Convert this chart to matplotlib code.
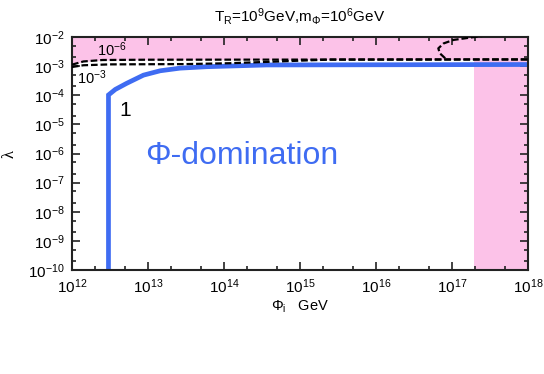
import numpy as np
import matplotlib.pyplot as plt
from matplotlib.ticker import LogLocator, NullFormatter

plt.rcParams['font.family'] = ['Liberation Sans', 'DejaVu Sans']
plt.rcParams['mathtext.fontset'] = 'custom'
plt.rcParams['mathtext.rm'] = 'Liberation Sans'
plt.rcParams['mathtext.it'] = 'Liberation Sans:italic'
plt.rcParams['mathtext.bf'] = 'Liberation Sans:bold'

BLUE = '#3f6cf2'
PINK = '#fcc2e8'

# Data (log10 values)
# Phi-domination boundary (thick blue)
blue_logx = [12.48, 12.48, 12.57, 12.72, 12.94, 13.16, 13.42, 13.77, 14.56, 18.0]
blue_logy = [-10.0, -3.99, -3.80, -3.59, -3.31, -3.16, -3.07, -3.02, -2.96, -2.945]

# dashed contour "10^-3"
c3_logx = [12.0, 12.15, 12.5, 13.5, 14.08, 14.61, 15.13, 15.4, 18.0]
c3_logy = [-3.03, -2.97, -2.94, -2.93, -2.90, -2.85, -2.80, -2.775, -2.77]

# dashed contour "10^-6" (main branch and upper branch)
c6_logx = [12.0, 12.15, 12.4, 13.0, 18.0]
c6_logy = [-2.95, -2.84, -2.79, -2.78, -2.77]
c6b_logx = [16.91, 16.84, 16.82, 16.89, 17.02, 17.24, 17.41]
c6b_logy = [-2.73, -2.56, -2.39, -2.22, -2.10, -2.02, -1.96]

# excluded (pink) regions
band_top = -2.0
vert_logx_min = 17.29

fig = plt.figure(figsize=(5.44, 3.74), dpi=100)
ax = fig.add_axes([72/544, 1 - 270/374, (528 - 72)/544, (270 - 37)/374])

ax.set_xscale('log')
ax.set_yscale('log')
ax.set_xlim(1e12, 1e18)
ax.set_ylim(1e-10, 1e-2)

# pink regions
px = 10**np.array(c6_logx)
ax.fill_between(px, 10**np.array(c6_logy), 10**band_top, color=PINK, lw=0, zorder=0)
ax.axvspan(10**vert_logx_min, 1e18, color=PINK, lw=0, zorder=0)

# dashed contours
dash_kw = dict(color='k', ls='--', lw=1.6, dashes=(3, 1.3), zorder=3)
ax.plot(10**np.array(c3_logx), 10**np.array(c3_logy), **dash_kw)
ax.plot(10**np.array(c6_logx), 10**np.array(c6_logy), **dash_kw)
ax.plot(10**np.array(c6b_logx), 10**np.array(c6b_logy), **dash_kw)

# blue boundary
ax.plot(10**np.array(blue_logx), 10**np.array(blue_logy), color=BLUE, lw=3.4,
        solid_joinstyle='miter', zorder=2)

# annotations
ax.text(10**12.53, 10**-2.45, r'10$^{-6}$', fontsize=10.5, ha='center', va='center', zorder=4)
ax.text(10**12.26, 10**-3.41, r'10$^{-3}$', fontsize=10.5, ha='center', va='center', zorder=4)
ax.text(10**12.70, 10**-4.51, '1', fontsize=15, ha='center', va='center')
ax.text(10**14.24, 10**-6.09, 'Φ-domination', fontsize=23, color=BLUE,
        ha='center', va='center')

ax.set_title(r'T$_\mathrm{R}$=10$^9$GeV,m$_\Phi$=10$^6$GeV', fontsize=11, pad=11)
ax.set_xlabel(r'$\Phi_\mathrm{i}$   GeV', fontsize=10.5, labelpad=2)
ax.set_ylabel('λ', fontsize=12, family='Liberation Serif', rotation=90)
ax.yaxis.set_label_coords(-0.12, 0.5)

ax.xaxis.set_major_locator(LogLocator(base=10, numticks=10))
ax.yaxis.set_major_locator(LogLocator(base=10, numticks=12))
ax.xaxis.set_minor_locator(LogLocator(base=10, subs=(2, 5), numticks=20))
ax.yaxis.set_minor_locator(LogLocator(base=10, subs=(2, 5), numticks=20))
ax.xaxis.set_minor_formatter(NullFormatter())
ax.yaxis.set_minor_formatter(NullFormatter())

ax.tick_params(which='both', direction='in', top=True, right=True, labelsize=11,
               color='#222222', width=1.2)
ax.tick_params(which='major', length=6, pad=5)
ax.tick_params(which='minor', length=3)
for s in ax.spines.values():
    s.set_linewidth(1.5)
    s.set_color('#222222')

fig.savefig('out.png', dpi=100)
